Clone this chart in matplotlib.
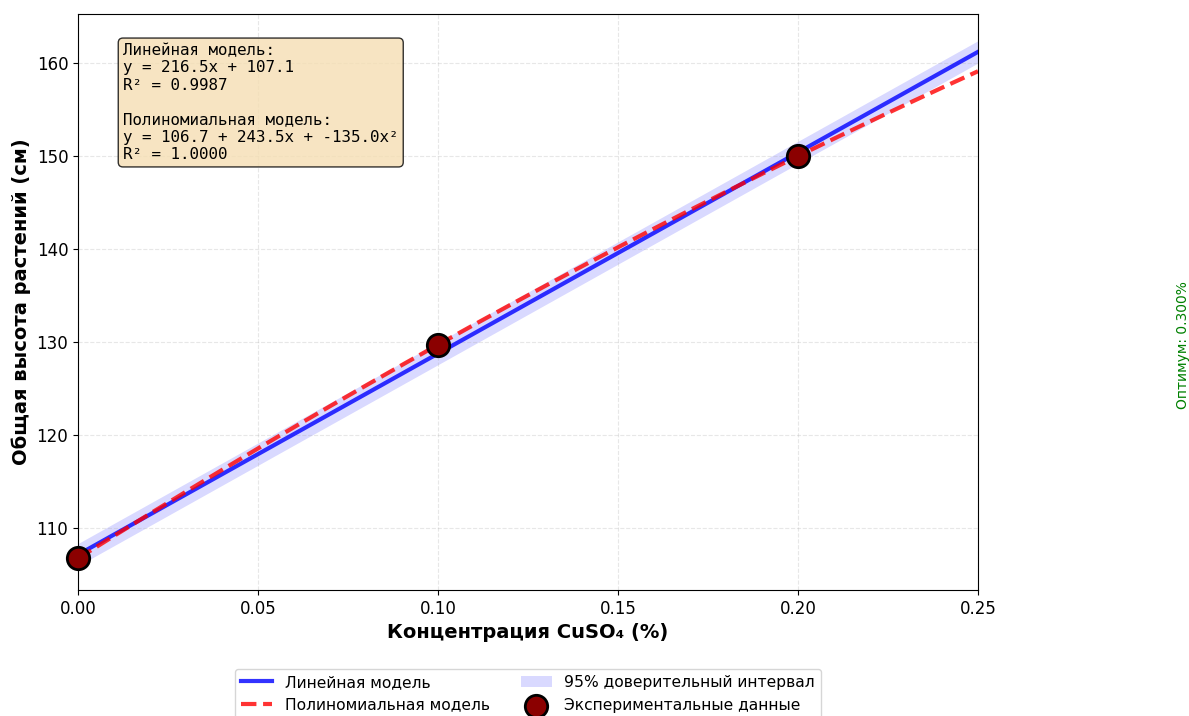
import numpy as np
import matplotlib
matplotlib.use("Agg")
import matplotlib.pyplot as plt

# Data
conc = [0.0, 0.1, 0.2]
height = [106.7, 129.7, 150.0]
lin_coef = [216.5, 107.1]          # slope, intercept
poly_coef = [106.7, 243.5, -135.0]  # c0, c1, c2
ci_half = 1.2
optimum = 0.300
x_range = [0.0, 0.25]

plt.rcParams['font.family'] = ['DejaVu Sans']

fig = plt.figure(figsize=(11.89, 7.16), dpi=100)
ax = fig.add_axes([78/1189, 1-590/716, 900/1189, 576/716])

xs = np.linspace(x_range[0], x_range[1], 200)
y_lin = lin_coef[0]*xs + lin_coef[1]
y_poly = poly_coef[0] + poly_coef[1]*xs + poly_coef[2]*xs**2

h_lin, = ax.plot(xs, y_lin, color='blue', lw=3, alpha=0.8, label='Линейная модель')
h_poly, = ax.plot(xs, y_poly, color='red', lw=3, ls='--', alpha=0.8, label='Полиномиальная модель')
h_band = ax.fill_between(xs, y_lin-ci_half, y_lin+ci_half, color='blue', alpha=0.15, lw=0,
                         label='95% доверительный интервал')
h_pts = ax.scatter(conc, height, s=260, color='darkred', edgecolor='black', linewidth=2,
                   zorder=5, clip_on=False, label='Экспериментальные данные')

ax.axvline(optimum, color='green', ls='--', lw=2, alpha=0.7)
ax.text(optimum+0.007, 129.7, f'Оптимум: {optimum:.3f}%', rotation=90, color='green',
        fontsize=10, ha='center', va='center', clip_on=False)

ax.set_xlim(x_range)
ax.set_ylim(103.3, 165.3)
ax.set_xticks([0.0, 0.05, 0.10, 0.15, 0.20, 0.25])
ax.set_xticklabels(['0.00', '0.05', '0.10', '0.15', '0.20', '0.25'])
ax.tick_params(labelsize=12)
ax.grid(True, ls='--', alpha=0.3)
ax.set_xlabel('Концентрация CuSO₄ (%)', fontsize=14, fontweight='bold')
ax.set_ylabel('Общая высота растений (см)', fontsize=14, fontweight='bold')

txt = (f"Линейная модель:\ny = {lin_coef[0]:.1f}x + {lin_coef[1]:.1f}\nR² = 0.9987\n\n"
       f"Полиномиальная модель:\ny = {poly_coef[0]:.1f} + {poly_coef[1]:.1f}x + {poly_coef[2]:.1f}x²\nR² = 1.0000")
ax.text(0.05, 0.95, txt, transform=ax.transAxes, fontsize=11.4, family='DejaVu Sans Mono',
        va='top', ha='left',
        bbox=dict(boxstyle='round,pad=0.3', facecolor='wheat', edgecolor='black', alpha=0.8))

ax.legend(handles=[h_lin, h_poly, h_band, h_pts], loc='upper center',
          bbox_to_anchor=(0.5, -0.123), ncol=2, fontsize=11.2)

fig.savefig('out.png', dpi=100)
